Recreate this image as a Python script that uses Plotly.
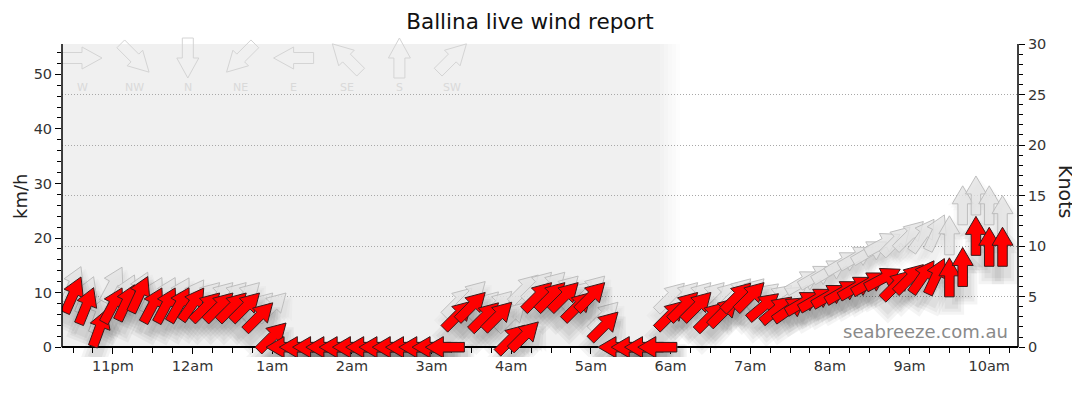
import math
import plotly.graph_objects as go

# 10-minute observations, local time
TIMES = ["22:30", "22:40", "22:50", "23:00", "23:10", "23:20", "23:30", "23:40", "23:50",
         "00:00", "00:10", "00:20", "00:30", "00:40", "00:50", "01:00", "01:10", "01:20",
         "01:30", "01:40", "01:50", "02:00", "02:10", "02:20", "02:30", "02:40", "02:50",
         "03:00", "03:10", "03:20", "03:30", "03:40", "03:50", "04:00", "04:10", "04:20",
         "04:30", "04:40", "04:50", "05:00", "05:10", "05:20", "05:30", "05:40", "05:50",
         "06:00", "06:10", "06:20", "06:30", "06:40", "06:50", "07:00", "07:10", "07:20",
         "07:30", "07:40", "07:50", "08:00", "08:10", "08:20", "08:30", "08:40", "08:50",
         "09:00", "09:10", "09:20", "09:30", "09:40", "09:50", "10:00", "10:10"]

SPEED_KMH = [9.6, 7.6, 3.5, 7.7, 8.2, 9.7, 7.7, 7.7, 7.8,
             7.9, 7.4, 7.4, 7.4, 7.4, 5.6, 1.9, 0, 0,
             0, 0, 0, 0, 0, 0, 0, 0, 0,
             0, 0, 5.9, 7.5, 5.6, 5.7, 1.5, 2.1, 9.3,
             9.3, 9.3, 7.5, 9.3, 3.9, 0, 0, 0, 0,
             5.9, 7.5, 7.5, 5.6, 6.5, 9.2, 9.3, 7.5, 6.9,
             7.0, 8.2, 8.8, 9.5, 10.2, 11.0, 11.8, 12.6, 11.4,
             12.6, 12.9, 13.0, 12.8, 14.7, 20.4, 18.4, 18.4]

GUST_KMH = [11.5, 9.6, 6.0, 11.5, 10.0, 10.5, 9.6, 9.6, 9.6,
            9.4, 9.3, 9.3, 9.3, 9.3, 7.4, 7.4, 0, 0,
            0, 0, 0, 0, 0, 0, 0, 0, 0,
            0, 0, 8.3, 9.5, 7.6, 7.7, 5.6, 10.7, 11.2,
            11.2, 10.5, 9.5, 10.5, 5.7, 0, 0, 0, 0,
            9.2, 9.3, 9.3, 9.3, 9.3, 10.0, 10.0, 9.3, 9.0,
            9.0, 12.0, 13.0, 14.0, 15.5, 16.5, 17.5, 19.0, 19.5,
            20.5, 20.5, 21.0, 20.5, 26.0, 27.8, 26.0, 24.2]

# direction the wind blows from, degrees
DIR_FROM = [204, 202, 200, 208, 205, 205, 208, 208, 210,
            215, 225, 225, 225, 225, 225, 225, 90, 90,
            90, 90, 90, 90, 90, 90, 90, 90, 90,
            90, 90, 225, 225, 225, 225, 225, 225, 225,
            225, 225, 225, 225, 225, 90, 90, 90, 90,
            225, 225, 225, 225, 225, 225, 225, 230, 230,
            235, 240, 240, 240, 240, 240, 240, 242, 225,
            225, 215, 205, 180, 180, 180, 180, 180]

HOUR_TICKS = ["23:00", "00:00", "01:00", "02:00", "03:00", "04:00", "05:00",
              "06:00", "07:00", "08:00", "09:00", "10:00"]
HOUR_LABELS = ["11pm", "12am", "1am", "2am", "3am", "4am", "5am",
               "6am", "7am", "8am", "9am", "10am"]

COMPASS = ["W", "NW", "N", "NE", "E", "SE", "S", "SW"]
COMPASS_DEG = [270, 315, 0, 45, 90, 135, 180, 225]

KMH_PER_KNOT = 1.852
TOP_KNOTS = 30
YMAX = TOP_KNOTS * KMH_PER_KNOT
YLOW = -1.8  # a little room under zero so calm arrows are not cut

X_START = "2024-03-14 22:21:40"
X_END = "2024-03-15 10:21:40"
NIGHT_END = "2024-03-15 05:52"

# the page puts the figure 8px in from the top-left corner
PAGE_OFF = 8
W, H = 1072, 406
ML, MR, MT, MB = 54, 62, 36, 57
PW, PH = W - ML - MR, H - MT - MB


def stamp(hhmm):
    day = "2024-03-14" if int(hhmm[:2]) >= 12 else "2024-03-15"
    return day + " " + hhmm


def px_x(px):
    return (px - PAGE_OFF - ML) / PW


def px_y(py):
    return (PAGE_OFF + H - MB - py) / PH


def arrow_path(bearing, length=39, head=18, head_w=21, shaft_w=9.5, grow=0.0, off=(0, 0)):
    b = math.radians(bearing)
    ux, uy = math.sin(b), math.cos(b)
    qx, qy = math.cos(b), -math.sin(b)
    h = length / 2 + grow
    hw = head_w / 2 + grow
    sw = shaft_w / 2 + grow
    outline = [(-h, -sw), (h - head, -sw), (h - head, -hw), (h, 0),
               (h - head, hw), (h - head, sw), (-h, sw)]
    pts = [(a * ux + c * qx + off[0], a * uy + c * qy + off[1]) for a, c in outline]
    return "M" + "L".join("%.2f,%.2f" % p for p in pts) + "Z"


def arrow(t, v, bearing, fill, line_color, line_width=1, **kw):
    return dict(type="path", xref="x", yref="y", xsizemode="pixel", ysizemode="pixel",
                xanchor=t, yanchor=v, path=arrow_path(bearing, **kw),
                fillcolor=fill, line=dict(color=line_color, width=line_width), layer="above")


times = [stamp(t) for t in TIMES]
pointing = [(d + 180) % 360 for d in DIR_FROM]

shapes = []

# night shading with a soft edge
shapes.append(dict(type="rect", xref="x", yref="y", x0=X_START, x1=NIGHT_END, y0=0, y1=YMAX,
                   fillcolor="#f0f0f0", line=dict(width=0), layer="below"))
fade = ["2024-03-15 05:52", "2024-03-15 05:55", "2024-03-15 05:58", "2024-03-15 06:01",
        "2024-03-15 06:04", "2024-03-15 06:07"]
for i in range(len(fade) - 1):
    a = 0.85 - i * 0.18
    shapes.append(dict(type="rect", xref="x", yref="y", x0=fade[i], x1=fade[i + 1], y0=0, y1=YMAX,
                       fillcolor="rgba(240,240,240,%.2f)" % a, line=dict(width=0), layer="below"))

# compass key
for i, (name, deg) in enumerate(zip(COMPASS, COMPASS_DEG)):
    shapes.append(dict(type="path", xref="paper", yref="paper", xsizemode="pixel", ysizemode="pixel",
                       xanchor=px_x(82 + i * 52.9), yanchor=px_y(58),
                       path=arrow_path((deg + 180) % 360, length=40, head=20, head_w=22, shaft_w=11),
                       fillcolor="rgba(0,0,0,0)", line=dict(color="#d4d4d4", width=1), layer="above"))

# gust arrows with faint shadows
for t, g, b in zip(times, GUST_KMH, pointing):
    for k in range(3):
        shapes.append(arrow(t, g, b, "rgba(0,0,0,0.02)", "rgba(0,0,0,0)", 0,
                            grow=1.5 + 2.5 * k, off=(2, -8)))
for t, g, b in zip(times, GUST_KMH, pointing):
    shapes.append(arrow(t, g, b, "rgba(228,228,228,0.8)", "rgba(185,185,185,0.9)", 1))

# average speed arrows with shadows
for t, v, b in zip(times, SPEED_KMH, pointing):
    for k in range(3):
        shapes.append(arrow(t, v, b, "rgba(0,0,0,0.045)", "rgba(0,0,0,0)", 0,
                            grow=2 + 3 * k, off=(2, -10)))
for t, v, b in zip(times, SPEED_KMH, pointing):
    shapes.append(arrow(t, v, b, "#ff0000", "#3a1a1a", 1))

# left / right axis lines stopping at zero
for xp in (0, 1):
    shapes.append(dict(type="line", xref="paper", yref="y", x0=xp, x1=xp, y0=0, y1=YMAX,
                       line=dict(color="black", width=1.5), layer="above"))

fig = go.Figure()
fig.add_trace(go.Scatter(x=times, y=SPEED_KMH, mode="markers", marker=dict(opacity=0),
                         customdata=list(zip(GUST_KMH, DIR_FROM)),
                         hovertemplate="%{y} km/h, gust %{customdata[0]} km/h<br>from %{customdata[1]}°<extra></extra>"))
fig.add_trace(go.Scatter(x=times, y=[v / KMH_PER_KNOT for v in SPEED_KMH], yaxis="y2",
                         mode="markers", marker=dict(opacity=0), hoverinfo="skip"))

tick_font = dict(family="DejaVu Sans", size=14.5, color="#333")

annotations = [
    dict(text="km/h", xref="paper", yref="paper", x=px_x(20), y=px_y(197), textangle=-90,
         xanchor="center", yanchor="middle", showarrow=False,
         font=dict(family="DejaVu Sans", size=18, color="#222")),
    dict(text="Knots", xref="paper", yref="paper", x=px_x(1066), y=px_y(191), textangle=90,
         xanchor="center", yanchor="middle", showarrow=False,
         font=dict(family="DejaVu Sans", size=19, color="#222")),
    dict(text="seabreeze.com.au", xref="paper", yref="paper", x=px_x(1010), y=px_y(331),
         xanchor="right", yanchor="middle", showarrow=False,
         font=dict(family="DejaVu Sans", size=18, color="#8a8a8a")),
]
for i, name in enumerate(COMPASS):
    annotations.append(dict(text=name, xref="paper", yref="paper", x=px_x(82 + i * 52.9), y=px_y(87),
                            xanchor="center", yanchor="middle", showarrow=False,
                            font=dict(family="DejaVu Sans", size=11, color="#d9d9d9")))

fig.update_layout(
    width=W, height=H,
    margin=dict(l=ML, r=MR, t=MT, b=MB),
    paper_bgcolor="white", plot_bgcolor="white",
    showlegend=False,
    title=dict(text="Ballina live wind report", x=(530 - PAGE_OFF) / W, y=1 - (21 - PAGE_OFF) / H,
               xanchor="center", yanchor="middle",
               font=dict(family="DejaVu Sans", size=21.5, color="#111")),
    xaxis=dict(type="date", range=[X_START, X_END], anchor="free", position=-YLOW / (YMAX - YLOW),
               tickvals=[stamp(h) for h in HOUR_TICKS], ticktext=HOUR_LABELS,
               ticks="outside", ticklen=6, tickcolor="black", tickwidth=1.2,
               minor=dict(dtick=15 * 60 * 1000, ticks="outside", ticklen=5, tickcolor="black"),
               showline=True, linecolor="black", linewidth=1.5, showgrid=False, zeroline=False,
               tickfont=tick_font),
    yaxis=dict(range=[YLOW, YMAX], tick0=0, dtick=10, ticks="outside", ticklen=6, tickcolor="black",
               minor=dict(dtick=2, ticks="outside", ticklen=4, tickcolor="black"),
               showline=False, showgrid=False, zeroline=False, tickfont=tick_font),
    yaxis2=dict(range=[YLOW / KMH_PER_KNOT, TOP_KNOTS], overlaying="y", side="right", anchor="x",
                tick0=0, dtick=5, ticks="outside", ticklen=6, tickcolor="black",
                minor=dict(dtick=1, ticks="outside", ticklen=4, tickcolor="black"),
                showline=False, showgrid=True, gridcolor="#a8a8a8", griddash="1px,2px", gridwidth=1,
                zeroline=False, tickfont=tick_font),
    shapes=shapes,
    annotations=annotations,
)

fig.write_html("out.html")
